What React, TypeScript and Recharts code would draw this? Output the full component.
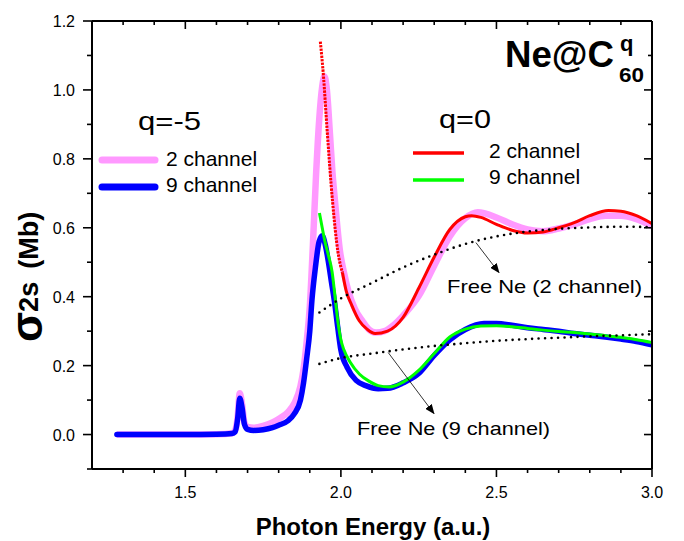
import React from 'react';
import { ComposedChart, Line, XAxis, YAxis, ReferenceLine, Customized } from 'recharts';

const FONT = "'Liberation Sans', Arial, sans-serif";

// axis ticks
const xTicks = [1.3, 1.4, 1.5, 1.6, 1.7, 1.8, 1.9, 2.0, 2.1, 2.2, 2.3, 2.4, 2.5, 2.6, 2.7, 2.8, 2.9, 3.0];
const xMajor = [1.5, 2.0, 2.5, 3.0];
const yTicks = [-0.1, 0.0, 0.1, 0.2, 0.3, 0.4, 0.5, 0.6, 0.7, 0.8, 0.9, 1.0, 1.1, 1.2];
const yMajor = [0.0, 0.2, 0.4, 0.6, 0.8, 1.0, 1.2];

// q = -5, 2 channel (pink)
const pinkX = [1.28, 1.4, 1.5, 1.6, 1.65, 1.66, 1.668, 1.675, 1.682, 1.69, 1.7, 1.72, 1.75, 1.78, 1.8, 1.83, 1.85, 1.87, 1.88, 1.89, 1.9, 1.91, 1.92, 1.93, 1.94, 1.947, 1.955, 1.965, 1.973, 1.981, 1.997, 2.01, 2.024, 2.045, 2.069, 2.09, 2.113, 2.14, 2.17, 2.2, 2.251, 2.3, 2.35, 2.4, 2.44, 2.5, 2.55, 2.6, 2.65, 2.7, 2.75, 2.8, 2.85, 2.9, 2.95, 3.0];
const pinkY = [0, 0, 0, 0.001, 0.004, 0.012, 0.05, 0.12, 0.09, 0.035, 0.022, 0.02, 0.025, 0.035, 0.045, 0.065, 0.09, 0.14, 0.19, 0.27, 0.37, 0.55, 0.75, 0.91, 1.01, 1.04, 1.0, 0.87, 0.76, 0.678, 0.533, 0.47, 0.417, 0.365, 0.33, 0.305, 0.296, 0.3, 0.318, 0.345, 0.403, 0.49, 0.575, 0.628, 0.645, 0.63, 0.61, 0.595, 0.59, 0.598, 0.61, 0.625, 0.635, 0.635, 0.625, 0.605];

// q = -5, 9 channel (blue)
const blueX = [1.28, 1.4, 1.5, 1.6, 1.65, 1.66, 1.668, 1.675, 1.682, 1.69, 1.7, 1.72, 1.75, 1.78, 1.8, 1.83, 1.85, 1.87, 1.88, 1.89, 1.9, 1.907, 1.918, 1.93, 1.94, 1.95, 1.96, 1.97, 1.979, 1.99, 2.0, 2.02, 2.049, 2.08, 2.12, 2.15, 2.2, 2.25, 2.3, 2.35, 2.4, 2.46, 2.5, 2.55, 2.6, 2.65, 2.7, 2.75, 2.8, 2.85, 2.9, 2.95, 3.0];
const blueY = [0, 0, 0, 0.001, 0.003, 0.008, 0.045, 0.105, 0.08, 0.03, 0.015, 0.012, 0.014, 0.02, 0.027, 0.04, 0.06, 0.1, 0.15, 0.22, 0.3, 0.39, 0.484, 0.56, 0.577, 0.55, 0.5, 0.44, 0.388, 0.31, 0.245, 0.195, 0.157, 0.142, 0.133, 0.134, 0.15, 0.177, 0.23, 0.275, 0.305, 0.322, 0.322, 0.317, 0.31, 0.305, 0.3, 0.293, 0.288, 0.283, 0.277, 0.27, 0.26];

// q = 0, 2 channel (red), steep part drawn dotted as in the original
const redSteepX = [1.934, 1.944, 1.956, 1.973, 1.99, 2.005];
const redSteepY = [1.14, 1.04, 0.88, 0.678, 0.533, 0.47];
const redX = [2.005, 2.017, 2.035, 2.059, 2.085, 2.11, 2.15, 2.2, 2.251, 2.3, 2.35, 2.4, 2.42, 2.45, 2.5, 2.55, 2.6, 2.65, 2.7, 2.75, 2.8, 2.86, 2.9, 2.95, 3.0];
const redY = [0.47, 0.417, 0.375, 0.33, 0.305, 0.293, 0.3, 0.34, 0.426, 0.515, 0.595, 0.632, 0.635, 0.63, 0.61, 0.593, 0.585, 0.588, 0.6, 0.615, 0.635, 0.65, 0.648, 0.635, 0.612];

// q = 0, 9 channel (green)
const greenX = [1.931, 1.94, 1.95, 1.96, 1.972, 1.98, 1.99, 2.0, 2.01, 2.03, 2.06, 2.09, 2.12, 2.155, 2.2, 2.25, 2.3, 2.35, 2.4, 2.45, 2.5, 2.55, 2.6, 2.65, 2.7, 2.75, 2.8, 2.85, 2.9, 2.95, 3.0];
const greenY = [0.643, 0.6, 0.555, 0.52, 0.47, 0.41, 0.33, 0.275, 0.245, 0.21, 0.175, 0.155, 0.142, 0.138, 0.152, 0.186, 0.235, 0.283, 0.306, 0.315, 0.316, 0.313, 0.308, 0.303, 0.299, 0.296, 0.292, 0.287, 0.282, 0.275, 0.267];

// Free Ne (dotted)
const free2X = [1.931, 2.0, 2.1, 2.2, 2.3, 2.4, 2.5, 2.6, 2.7, 2.8, 2.9, 3.0];
const free2Y = [0.354, 0.395, 0.44, 0.485, 0.522, 0.553, 0.575, 0.589, 0.597, 0.601, 0.603, 0.602];
const free9X = [1.931, 2.0, 2.1, 2.2, 2.3, 2.4, 2.5, 2.6, 2.7, 2.8, 2.9, 3.0];
const free9Y = [0.205, 0.222, 0.235, 0.247, 0.257, 0.265, 0.272, 0.277, 0.281, 0.285, 0.288, 0.291];

// annotation arrows (data coordinates)
const arrow2 = [{ x: 2.434, y: 0.557 }, { x: 2.508, y: 0.47 }];
const arrow9 = [{ x: 2.152, y: 0.238 }, { x: 2.299, y: 0.061 }];

const zip = (xs: number[], ys: number[]) => xs.map((x, i) => ({ x, y: ys[i] }));
const pinkData = zip(pinkX, pinkY);
const blueData = zip(blueX, blueY);
const redSteepData = zip(redSteepX, redSteepY);
const redData = zip(redX, redY);
const greenData = zip(greenX, greenY);
const free2Data = zip(free2X, free2Y);
const free9Data = zip(free9X, free9Y);

const isMajor = (v: number, majors: number[]) => majors.some((m) => Math.abs(m - v) < 1e-6);

const BottomTick = (props: any) => {
  const { x, y, payload } = props;
  const major = isMajor(payload.value, xMajor);
  return (
    <g>
      <path d={`M${x},${y}V${y + (major ? 8 : 4)}`} stroke="#000" strokeWidth={1.6} fill="none" />
      {major && (
        <text x={x} y={y + 29} textAnchor="middle" fontSize={16} fontFamily={FONT} fill="#000">
          {payload.value.toFixed(1)}
        </text>
      )}
    </g>
  );
};

const TopTick = (props: any) => {
  const { x, y, payload } = props;
  const major = isMajor(payload.value, xMajor);
  return <path d={`M${x},${y}V${y + (major ? 8 : 4)}`} stroke="#000" strokeWidth={1.6} fill="none" />;
};

const LeftTick = (props: any) => {
  const { x, y, payload } = props;
  const major = isMajor(payload.value, yMajor);
  return (
    <g>
      <path d={`M${x},${y}H${x - (major ? 9 : 5)}`} stroke="#000" strokeWidth={1.6} fill="none" />
      {major && (
        <text x={x - 17} y={y + 6} textAnchor="end" fontSize={16} fontFamily={FONT} fill="#000">
          {payload.value.toFixed(1)}
        </text>
      )}
    </g>
  );
};

const RightTick = (props: any) => {
  const { x, y, payload } = props;
  const major = isMajor(payload.value, yMajor);
  return <path d={`M${x},${y}H${x - (major ? 8 : 4)}`} stroke="#000" strokeWidth={1.6} fill="none" />;
};

const ArrowShape = (p: any) => (
  <line x1={p.x1} y1={p.y1} x2={p.x2} y2={p.y2} stroke="#000" strokeWidth={0.8} markerEnd="url(#arrowHead)" />
);

const Annotations = () => (
  <g fontFamily={FONT} fill="#000">
    <defs>
      <marker id="arrowHead" markerUnits="userSpaceOnUse" markerWidth={10} markerHeight={8} refX={9} refY={4} orient="auto">
        <path d="M0,0 L10,4 L0,8 Z" fill="#000" />
      </marker>
    </defs>
    {/* y axis label */}
    <text transform="translate(42,342) rotate(-90)" fontWeight="bold">
      <tspan fontSize={44}>σ</tspan>
      <tspan fontSize={27} dy={-4}>2s</tspan>
      <tspan fontSize={27} dx={13}>(Mb)</tspan>
    </text>
    {/* x axis label */}
    <text x={373} y={535} textAnchor="middle" fontSize={24} fontWeight="bold">Photon Energy (a.u.)</text>
    {/* title */}
    <text x={505} y={67} fontSize={36} fontWeight="bold" textLength={109} lengthAdjust="spacingAndGlyphs">Ne@C</text>
    <text x={620} y={51} fontSize={22} fontWeight="bold">q</text>
    <text x={619} y={82} fontSize={20} fontWeight="bold" textLength={25} lengthAdjust="spacingAndGlyphs">60</text>
    {/* q = -5 legend */}
    <text x={138} y={130} fontSize={25} textLength={63} lengthAdjust="spacingAndGlyphs">q=-5</text>
    <line x1={102} y1={160} x2={155} y2={160} stroke="#ff99ff" strokeWidth={7} strokeLinecap="round" />
    <text x={166} y={166} fontSize={21}>2 channel</text>
    <line x1={102} y1={187} x2={155} y2={187} stroke="#0000ff" strokeWidth={7} strokeLinecap="round" />
    <text x={166} y={192} fontSize={21}>9 channel</text>
    {/* q = 0 legend */}
    <text x={439} y={128} fontSize={25} textLength={52} lengthAdjust="spacingAndGlyphs">q=0</text>
    <line x1={413} y1={153} x2={464} y2={153} stroke="#ff0000" strokeWidth={3.5} />
    <text x={489} y={158} fontSize={21}>2 channel</text>
    <line x1={413} y1={180} x2={464} y2={180} stroke="#00ff00" strokeWidth={3.5} />
    <text x={489} y={184} fontSize={21}>9 channel</text>
    {/* free Ne labels */}
    <text x={447} y={293} fontSize={19} textLength={195} lengthAdjust="spacingAndGlyphs">Free Ne (2 channel)</text>
    <text x={357} y={435} fontSize={19} textLength={193} lengthAdjust="spacingAndGlyphs">Free Ne (9 channel)</text>
  </g>
);

export default function App() {
  return (
    <div style={{ position: 'absolute', left: 0, top: 0, background: '#fff' }}>
      <ComposedChart width={684} height={541} margin={{ top: 20, right: 31, bottom: 32, left: 32 }}>
        <XAxis
          xAxisId="b"
          type="number"
          dataKey="x"
          domain={[1.2, 3.0]}
          allowDataOverflow
          ticks={xTicks}
          interval={0}
          height={40}
          tickSize={0}
          tickMargin={0}
          tickLine={false}
          axisLine={{ stroke: '#000', strokeWidth: 2 }}
          tick={<BottomTick />}
        />
        <XAxis
          xAxisId="t"
          orientation="top"
          type="number"
          dataKey="x"
          domain={[1.2, 3.0]}
          allowDataOverflow
          ticks={xTicks}
          interval={0}
          height={1}
          tickSize={0}
          tickMargin={0}
          tickLine={false}
          axisLine={{ stroke: '#000', strokeWidth: 2 }}
          tick={<TopTick />}
        />
        <YAxis
          yAxisId="l"
          type="number"
          domain={[-0.1, 1.2]}
          allowDataOverflow
          ticks={yTicks}
          interval={0}
          width={60}
          tickSize={0}
          tickMargin={0}
          tickLine={false}
          axisLine={{ stroke: '#000', strokeWidth: 2 }}
          tick={<LeftTick />}
        />
        <YAxis
          yAxisId="r"
          orientation="right"
          type="number"
          domain={[-0.1, 1.2]}
          allowDataOverflow
          ticks={yTicks}
          interval={0}
          width={1}
          tickSize={0}
          tickMargin={0}
          tickLine={false}
          axisLine={{ stroke: '#000', strokeWidth: 2 }}
          tick={<RightTick />}
        />
        <Line xAxisId="b" yAxisId="l" data={pinkData} dataKey="y" type="monotone" stroke="#ff99ff" strokeWidth={6.5} dot={false} isAnimationActive={false} strokeLinejoin="round" />
        <Line xAxisId="b" yAxisId="l" data={blueData} dataKey="y" type="monotone" stroke="#0000ff" strokeWidth={5.5} dot={false} isAnimationActive={false} strokeLinejoin="round" strokeLinecap="round" />
        <Line xAxisId="b" yAxisId="l" data={redSteepData} dataKey="y" type="monotone" stroke="#ff0000" strokeWidth={3} strokeDasharray="2.4 1.1" dot={false} isAnimationActive={false} />
        <Line xAxisId="b" yAxisId="l" data={redData} dataKey="y" type="monotone" stroke="#ff0000" strokeWidth={3} dot={false} isAnimationActive={false} />
        <Line xAxisId="b" yAxisId="l" data={greenData} dataKey="y" type="monotone" stroke="#00ff00" strokeWidth={3} dot={false} isAnimationActive={false} />
        <Line xAxisId="b" yAxisId="l" data={free2Data} dataKey="y" type="monotone" stroke="#000" strokeWidth={2.6} strokeDasharray="0 6.5" strokeLinecap="round" dot={false} isAnimationActive={false} />
        <Line xAxisId="b" yAxisId="l" data={free9Data} dataKey="y" type="monotone" stroke="#000" strokeWidth={2.6} strokeDasharray="0 6.5" strokeLinecap="round" dot={false} isAnimationActive={false} />
        <ReferenceLine xAxisId="b" yAxisId="l" segment={arrow2} shape={ArrowShape} />
        <ReferenceLine xAxisId="b" yAxisId="l" segment={arrow9} shape={ArrowShape} />
        <Customized component={Annotations} />
      </ComposedChart>
    </div>
  );
}
